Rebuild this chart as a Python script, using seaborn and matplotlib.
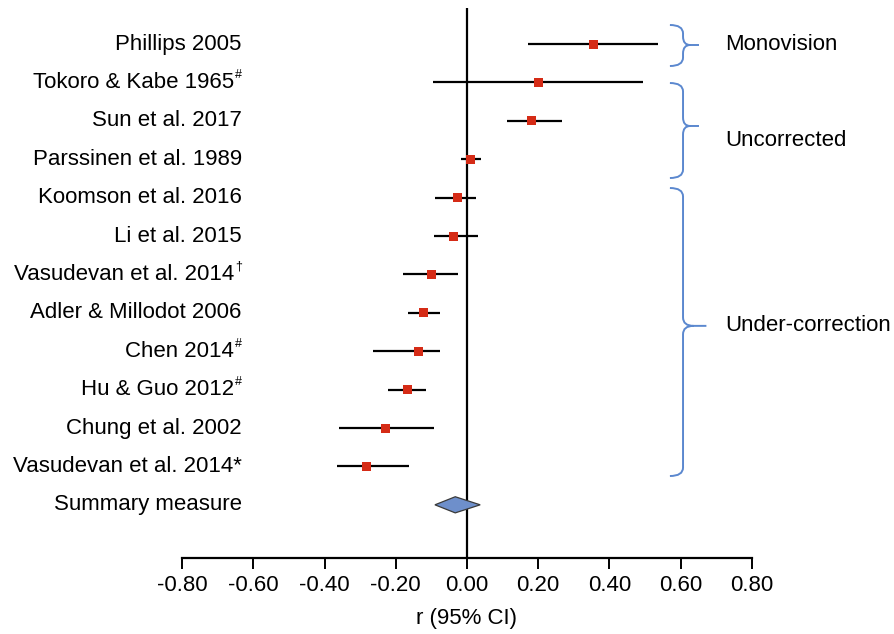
import matplotlib
matplotlib.use("Agg")
import matplotlib.pyplot as plt
import matplotlib.transforms as mtransforms
from matplotlib.path import Path
from matplotlib.patches import PathPatch, Polygon
import seaborn as sns
import pandas as pd
import numpy as np

# ---- data ----
studies = ["Phillips 2005", "Tokoro & Kabe 1965", "Sun et al. 2017",
           "Parssinen et al. 1989", "Koomson et al. 2016", "Li et al. 2015",
           "Vasudevan et al. 2014", "Adler & Millodot 2006",
           "Chen 2014", "Hu & Guo 2012", "Chung et al. 2002",
           "Vasudevan et al. 2014*"]
study_marks = ["", "#", "", "", "", "", "\u2020", "", "#", "#", "", ""]
r_est = [0.356, 0.200, 0.182, 0.009, -0.026, -0.039, -0.101, -0.123,
         -0.137, -0.166, -0.230, -0.281]
ci_low = [0.172, -0.096, 0.111, -0.018, -0.090, -0.092, -0.180, -0.166,
          -0.264, -0.221, -0.360, -0.365]
ci_high = [0.537, 0.493, 0.268, 0.038, 0.024, 0.030, -0.026, -0.077,
           -0.077, -0.116, -0.093, -0.164]
summary_label = "Summary measure"
summary_est = -0.033
summary_low = -0.090
summary_high = 0.037
x_ticks = [-0.8, -0.6, -0.4, -0.2, 0.0, 0.2, 0.4, 0.6, 0.8]
x_label = "r (95% CI)"
groups = ["Monovision", "Uncorrected", "Under-correction"]

# ---- layout ----
sns.set_theme(style="white")
plt.rcParams["font.family"] = ["Liberation Sans", "DejaVu Sans"]
plt.rcParams["text.color"] = "black"
plt.rcParams["axes.labelcolor"] = "black"
plt.rcParams["xtick.color"] = "black"

W, H = 894, 634
fig = plt.figure(figsize=(W / 100, H / 100), dpi=100)
ax = fig.add_axes([182 / W, 1 - 558 / H, (752 - 182) / W, (558 - 8) / H])

rows = np.arange(len(studies))
df = pd.DataFrame({"study": studies, "r": r_est, "lo": ci_low, "hi": ci_high, "row": rows})

ax.axvline(0, color="black", lw=1.6, zorder=1)
ax.hlines(df["row"], df["lo"], df["hi"], color="black", lw=1.6, zorder=2)
sns.scatterplot(data=df, x="r", y="row", marker="s", s=42, color="#D52B16",
                edgecolor="none", linewidth=0, ax=ax, zorder=3, legend=False)

# summary diamond
sy = len(studies)
h = 0.21
diamond = Polygon([(summary_low, sy), (summary_est, sy - h), (summary_high, sy),
                   (summary_est, sy + h)], closed=True, facecolor="#6E8FCB",
                  edgecolor="#3A3A3A", lw=0.9, zorder=3)
ax.add_patch(diamond)

ax.set_xlim(-0.8, 0.8)
ax.set_ylim(13.385, -0.9375)
ax.set_xticks(x_ticks)
ax.set_xticklabels([f"{t:.2f}" for t in x_ticks], fontsize=16, color="black")
ax.set_yticks([])
ax.set_xlabel(x_label, fontsize=16, labelpad=9, color="black")
ax.set_ylabel("")
for s in ["left", "top", "right"]:
    ax.spines[s].set_visible(False)
ax.spines["bottom"].set_color("black")
ax.spines["bottom"].set_linewidth(1.6)
ax.tick_params(axis="x", direction="out", length=8, width=1.4, color="black",
               labelcolor="black", bottom=True, pad=4)

# study labels (with small superscript marks)
trans = mtransforms.blended_transform_factory(ax.transAxes, ax.transData)
renderer = fig.canvas.get_renderer()
xr = 0.105
ax_w_px = ax.get_window_extent(renderer).width
for i, (lab, mk) in enumerate(zip(studies + [summary_label], study_marks + [""])):
    shift = 0.0
    if mk:
        t = ax.text(xr, i - 0.2, mk, transform=trans, ha="right", va="center",
                    fontsize=9, color="black")
        shift = t.get_window_extent(renderer).width / ax_w_px + 0.002
    ax.text(xr - shift, i, lab, transform=trans, ha="right", va="center",
            fontsize=16, color="black")

# braces
brace_color = "#5B88CF"
brace_spans = [(-0.495, 0.573, 0.026, 0.026),
               (1.016, 3.49, 2.135, 2.5),
               (3.75, 11.25, 7.34, 7.34)]
x0, x1, xt = 0.856, 0.879, 0.953
tip_x = [0.907, 0.907, 0.92]
for (yt, yb, ym, ytext), g, xx2 in zip(brace_spans, groups, tip_x):
    r = 0.22
    xm = x1 + (xx2 - x1) * 0.45
    verts = [(x0, yt), (x1, yt), (x1, yt + r), (x1, ym - r), (x1, ym), (xm, ym),
             (xx2, ym),
             (xm, ym), (x1, ym), (x1, ym + r), (x1, yb - r), (x1, yb), (x0, yb)]
    codes = [Path.MOVETO, Path.CURVE3, Path.CURVE3, Path.LINETO, Path.CURVE3, Path.CURVE3,
             Path.LINETO,
             Path.MOVETO, Path.CURVE3, Path.CURVE3, Path.LINETO, Path.CURVE3, Path.CURVE3]
    patch = PathPatch(Path(verts, codes), transform=trans, facecolor="none",
                      edgecolor=brace_color, lw=1.4, clip_on=False)
    ax.add_patch(patch)
    ax.text(xt, ytext, g, transform=trans, ha="left", va="center", fontsize=16,
            color="black", clip_on=False)

fig.savefig("out.png", dpi=100)
